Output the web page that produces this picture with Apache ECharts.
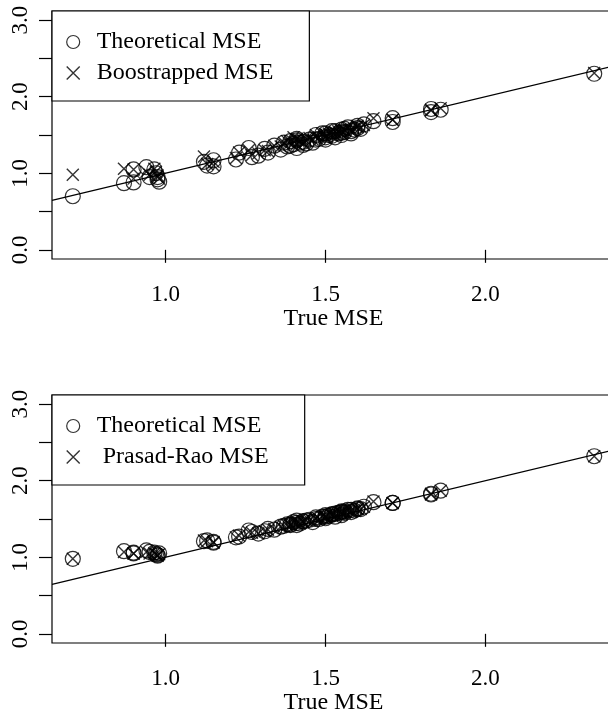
<!DOCTYPE html>
<html>
<head>
<meta charset="utf-8">
<script src="https://cdn.jsdelivr.net/npm/echarts@6/dist/echarts.min.js"></script>
<style>
  html, body { margin: 0; padding: 0; background: #fff; }
  #chart { width: 608px; height: 714px; }
</style>
</head>
<body>
<div id="chart"></div>
<script>
// true MSE (shared x values of both panels)
const trueMse = [
  0.71, 0.87, 0.90, 0.90, 0.94, 0.95, 0.965, 0.97, 0.975, 0.975,
  0.98, 1.12, 1.13, 1.15, 1.15, 1.22, 1.23, 1.26, 1.27, 1.29,
  1.31, 1.32, 1.34, 1.36, 1.37, 1.38, 1.39, 1.40, 1.41, 1.41,
  1.42, 1.43, 1.45, 1.46, 1.47, 1.48, 1.49, 1.50, 1.50, 1.51,
  1.52, 1.53, 1.54, 1.55, 1.55, 1.56, 1.57, 1.58, 1.59, 1.60,
  1.61, 1.62, 1.65, 1.71, 1.71, 1.83, 1.83, 1.86, 2.34,
  1.39, 1.41, 1.43, 1.44, 1.47, 1.50, 1.52, 1.53, 1.55, 1.56, 1.58, 1.60,
]
// top panel
const theoTop = [
  0.70, 0.87, 1.05, 0.88, 1.08, 0.95, 1.05, 1.00, 0.95, 0.92,
  0.89, 1.15, 1.10, 1.17, 1.09, 1.18, 1.27, 1.33, 1.21, 1.23,
  1.32, 1.27, 1.36, 1.31, 1.40, 1.35, 1.42, 1.38, 1.33, 1.45,
  1.40, 1.37, 1.44, 1.40, 1.50, 1.45, 1.52, 1.47, 1.44, 1.50,
  1.55, 1.47, 1.52, 1.57, 1.50, 1.54, 1.60, 1.52, 1.57, 1.62,
  1.58, 1.64, 1.68, 1.67, 1.72, 1.80, 1.84, 1.83, 2.30,
  1.36, 1.43, 1.41, 1.39, 1.44, 1.52, 1.49, 1.55, 1.53, 1.58, 1.55, 1.59,
]
const bootTop = [
  0.98, 1.06, 1.05, 0.93, 1.02, 0.98, 1.06, 1.02, 0.97, 0.95,
  0.93, 1.22, 1.12, 1.15, 1.10, 1.20, 1.27, 1.30, 1.24, 1.26,
  1.30, 1.29, 1.36, 1.35, 1.40, 1.42, 1.42, 1.47, 1.38, 1.45,
  1.42, 1.40, 1.46, 1.44, 1.50, 1.47, 1.52, 1.48, 1.46, 1.52,
  1.54, 1.50, 1.55, 1.57, 1.52, 1.56, 1.59, 1.55, 1.58, 1.62,
  1.60, 1.63, 1.72, 1.70, 1.70, 1.82, 1.83, 1.85, 2.31,
  1.40, 1.44, 1.43, 1.42, 1.47, 1.51, 1.50, 1.54, 1.55, 1.57, 1.57, 1.60,
]
// bottom panel
const theoBottom = [
  0.98, 1.08, 1.06, 1.05, 1.09, 1.07, 1.06, 1.04, 1.03, 1.02,
  1.05, 1.21, 1.22, 1.20, 1.19, 1.26, 1.27, 1.35, 1.33, 1.31,
  1.34, 1.37, 1.36, 1.40, 1.41, 1.43, 1.42, 1.46, 1.42, 1.48,
  1.44, 1.47, 1.49, 1.46, 1.52, 1.50, 1.53, 1.55, 1.51, 1.54,
  1.56, 1.53, 1.58, 1.60, 1.55, 1.58, 1.62, 1.59, 1.61, 1.64,
  1.63, 1.66, 1.72, 1.71, 1.71, 1.83, 1.82, 1.87, 2.32,
  1.43, 1.45, 1.47, 1.48, 1.50, 1.53, 1.56, 1.57, 1.59, 1.60, 1.62, 1.63,
]
const prasadRao = [
  0.98, 1.07, 1.05, 1.05, 1.07, 1.05, 1.05, 1.04, 1.03, 1.02,
  1.04, 1.22, 1.21, 1.20, 1.19, 1.26, 1.28, 1.33, 1.32, 1.31,
  1.34, 1.36, 1.37, 1.40, 1.41, 1.42, 1.42, 1.45, 1.43, 1.47,
  1.44, 1.47, 1.48, 1.47, 1.51, 1.50, 1.53, 1.54, 1.52, 1.54,
  1.56, 1.54, 1.57, 1.59, 1.56, 1.58, 1.61, 1.59, 1.61, 1.63,
  1.63, 1.66, 1.73, 1.71, 1.71, 1.83, 1.82, 1.87, 2.32,
  1.43, 1.45, 1.46, 1.48, 1.50, 1.53, 1.55, 1.57, 1.58, 1.60, 1.61, 1.63,
]

const xMin = 0.645, xMax = 2.405
const yMin = -0.12, yMax = 3.12
const xTicks = [1.0, 1.5, 2.0]
const yTicks = [0, 0.5, 1, 1.5, 2, 2.5, 3]
const yTickLabels = [0, 1, 2, 3]

const font = 'Liberation Serif'
const cross = 'path://M0,0L10,10M10,0L0,10'
const hollow = { color: 'transparent', borderColor: '#000', borderWidth: 1.2 }

const panels = [
  { top: 11, estName: 'Boostrapped MSE', theo: theoTop, est: bootTop },
  { top: 395, estName: ' Prasad-Rao MSE', theo: theoBottom, est: prasadRao },
]

const pairs = (ys) => trueMse.map((x, i) => [x, ys[i]])
const textStyle = { fontFamily: font, fontSize: 24, color: '#000' }
const tickText = { fontFamily: font, fontSize: 23, color: '#000' }

const option = {
  animation: false,
  backgroundColor: '#fff',
  grid: panels.map((p) => ({
    left: 52,
    right: -7,
    top: p.top,
    height: 248,
    show: true,
    borderColor: '#000',
    borderWidth: 1.2,
    backgroundColor: 'transparent',
    containLabel: false,
    outerBoundsMode: 'none',
  })),
  xAxis: panels.map((p, i) => ({
    type: 'value',
    gridIndex: i,
    min: xMin,
    max: xMax,
    name: 'True MSE',
    nameLocation: 'middle',
    nameGap: 48,
    nameTextStyle: textStyle,
    axisLine: { show: false },
    splitLine: { show: false },
    axisTick: { show: true, length: 13, customValues: xTicks, lineStyle: { color: '#000', width: 1.2 } },
    axisLabel: { customValues: xTicks, margin: 24, formatter: (v) => v.toFixed(1), ...tickText },
  })),
  yAxis: panels.map((p, i) => ({
    type: 'value',
    gridIndex: i,
    min: yMin,
    max: yMax,
    axisLine: { show: false },
    splitLine: { show: false },
    axisTick: { show: true, length: 13, customValues: yTicks, lineStyle: { color: '#000', width: 1.2 } },
    axisLabel: { customValues: yTickLabels, rotate: 90, margin: 20, formatter: (v) => v.toFixed(1), ...tickText },
  })),
  legend: panels.map((p) => ({
    left: 52,
    top: p.top,
    orient: 'vertical',
    selectedMode: false,
    itemWidth: 13,
    itemHeight: 13,
    itemGap: 7,
    padding: [19, 36, 16, 14],
    borderColor: '#000',
    borderWidth: 1.2,
    borderRadius: 0,
    backgroundColor: '#fff',
    textStyle: { ...textStyle, padding: [0, 0, 0, 12] },
    data: [
      { name: 'Theoretical MSE', icon: 'circle', itemStyle: hollow },
      { name: p.estName, icon: cross, itemStyle: { ...hollow, borderWidth: 1.4 } },
    ],
  })),
  series: panels.flatMap((p, i) => [
    {
      type: 'line',
      xAxisIndex: i,
      yAxisIndex: i,
      data: [[xMin, xMin], [xMax, xMax]],
      showSymbol: false,
      silent: true,
      lineStyle: { color: '#000', width: 1.2 },
      z: 1,
    },
    {
      type: 'scatter',
      name: 'Theoretical MSE',
      xAxisIndex: i,
      yAxisIndex: i,
      data: pairs(p.theo),
      symbol: 'circle',
      symbolSize: 15,
      itemStyle: hollow,
      emphasis: { disabled: true },
      z: 2,
    },
    {
      type: 'scatter',
      name: p.estName,
      xAxisIndex: i,
      yAxisIndex: i,
      data: pairs(p.est),
      symbol: cross,
      symbolSize: 12,
      itemStyle: { ...hollow, borderWidth: 1.4 },
      emphasis: { disabled: true },
      z: 3,
    },
  ]),
}

const chart = echarts.init(document.getElementById('chart'))
chart.setOption(option)
</script>
</body>
</html>
